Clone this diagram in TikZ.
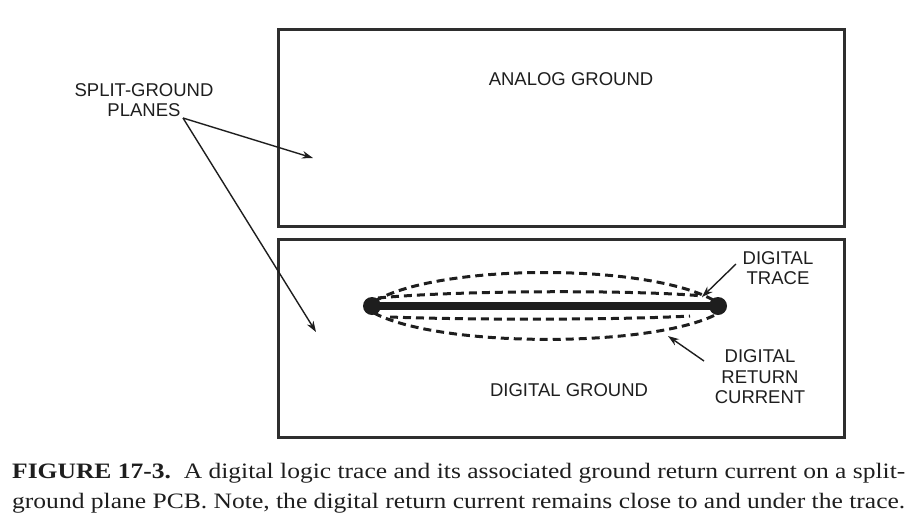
\documentclass[tikz,border=0pt]{standalone}
\usepackage{fontspec}
\setmainfont{Liberation Serif}
\setsansfont{Liberation Sans}
\usetikzlibrary{arrows.meta}
\definecolor{ink}{HTML}{1E1E1E}
\definecolor{frame}{HTML}{2E2E2E}
\begin{document}
\begin{tikzpicture}[x=1pt,y=-1pt,
  plane/.style={draw=frame,line width=2.8pt},
  lbl/.style={font=\sffamily\fontsize{18.5}{20.5}\selectfont,text=ink,align=center,inner sep=0pt},
  ptr/.style={draw=ink,line width=1.4pt,-{Stealth[length=11pt,width=7.5pt]}},
  ret/.style={draw=ink,line width=3pt,dash pattern=on 8pt off 5pt},
  captext/.style={font=\fontsize{22}{26}\selectfont,text=ink,anchor=base west,inner sep=0pt}]
\useasboundingbox (0,0) rectangle (918,523);
% planes
\node[plane,minimum width=566pt,minimum height=197pt,anchor=north west,inner sep=0pt] (ana) at (277,28) {};
\node[plane,minimum width=566pt,minimum height=198pt,anchor=north west,inner sep=0pt] (dig) at (277,238) {};
\node[lbl] (analbl) at (571,79) {ANALOG GROUND};
\node[lbl] (diglbl) at (569,390) {DIGITAL GROUND};
% trace
\coordinate (tl) at (372,306);
\coordinate (tr) at (718,306);
\draw[ret] (375,301) .. controls (440,263) and (650,263) .. (715,301);
\draw[ret] (374,313) .. controls (440,348) and (652,348) .. (717,314);
\draw[ret] (378,298) .. controls (460,290) and (640,290) .. (703,296);
\draw[ret] (390,317) .. controls (470,320) and (620,320) .. (690,316);
\draw[ink,line width=8pt] (tl) -- (tr);
\fill[ink] (tl) circle (9pt);
\fill[ink] (tr) circle (9pt);
% labels
\node[lbl] (split) at (144,100) {SPLIT-GROUND\\PLANES};
\coordinate (splitpt) at (183,118);
\coordinate (anaend) at (313,158);
\coordinate (digend) at (316,332);
\draw[ptr] (splitpt) -- (anaend);
\draw[ptr] (splitpt) -- (digend);
\node[lbl] (trace) at (778,268) {DIGITAL\\TRACE};
\coordinate (tracefrom) at (736,264);
\coordinate (traceto) at (702,297);
\draw[ptr] (tracefrom) -- (traceto);
\node[lbl] (retlbl) at (760,377) {DIGITAL\\RETURN\\CURRENT};
\coordinate (retfrom) at (704,361);
\coordinate (retto) at (668,336);
\draw[ptr] (retfrom) -- (retto);
% caption
\node[captext] (cap1) at (12,478) {\resizebox{893pt}{\height}{\textbf{FIGURE 17-3.}\ \ A digital logic trace and its associated ground return current on a split-}};
\node[captext] (cap2) at (12,508) {\resizebox{893pt}{\height}{ground plane PCB. Note, the digital return current remains close to and under the trace.}};
\end{tikzpicture}
\end{document}
